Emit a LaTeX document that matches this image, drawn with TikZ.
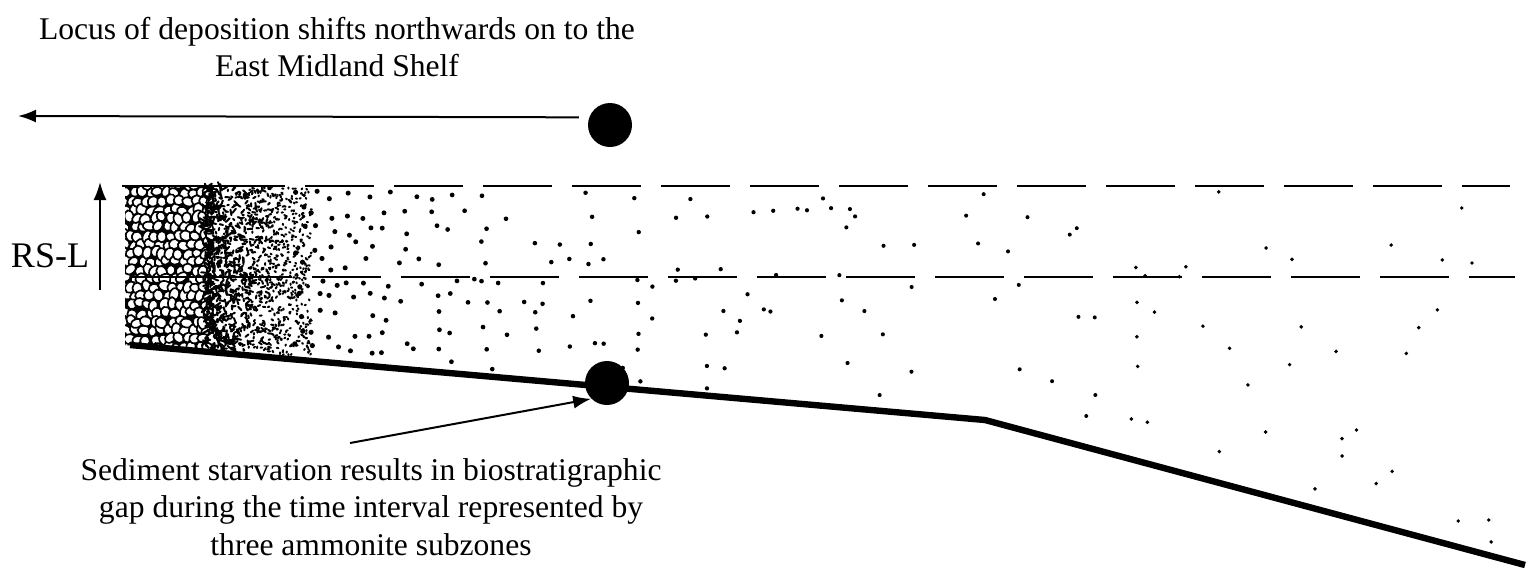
\documentclass[tikz,border=0pt]{standalone}
\usepackage{fontspec}
\setmainfont{Liberation Serif}
\usetikzlibrary{shapes,arrows,arrows.meta}
\tikzstyle{annot} =
        [
                align = center,
                % draw,
                font = \fontsize{15.8}{18.8}\selectfont,
                inner sep = 0pt
        ]
\tikzstyle{marker} =
        [
                circle,
                fill = black,
                minimum size = 22pt,
                inner sep = 0pt
        ]
\tikzstyle{line} =
        [
                line width = 1pt,
                draw = black,
                -{Latex[length = 9pt, width = 6.5pt]}
        ]
\tikzstyle{shelf} =
        [
                line width = 3.2pt,
                line join = round
        ]
\tikzstyle{sealevel} =
        [
                line width = 1pt,
                dash pattern = on 34.5pt off 10pt
        ]

\begin{document}
\begin{tikzpicture}[x = 0.5pt, y = -0.5pt]
    \useasboundingbox (0,0) rectangle (1530,570);
    \coordinate (shelf-west) at (130,345);
    \coordinate (shelf-break) at (985,420);
    \coordinate (shelf-east) at (1525,565);

    % pebbles
    \pgfmathsetseed{4217}
    \begin{scope}
        \clip (125,186) -- (214,186) -- (214,353) -- (125,345) -- cycle;
        \fill (125,186) rectangle (202,356);
        \foreach \i in {0,...,11} \foreach \j in {0,...,19} {
            \pgfmathsetmacro{\cx}{122 + 8.2*\i + 4*rnd - 2 + mod(\j,2)*4}
            \pgfmathsetmacro{\cy}{184 + 8.6*\j + 4*rnd - 2}
            \pgfmathsetmacro{\ra}{2.5 + 0.8*rnd}
            \pgfmathsetmacro{\rb}{2.0 + 0.6*rnd}
            \pgfmathsetmacro{\rot}{180*rnd}
            \filldraw [fill = white, line width = 0.85pt, rotate around = {\rot:(\cx,\cy)}]
                (\cx,\cy) ellipse (\ra pt and \rb pt);
        }
    \end{scope}

    % grit
    \foreach \i in {1,...,1300} {
        \pgfmathsetmacro{\qx}{205 + 106*pow(0.001 + 0.998*rnd,1.25)}
        \pgfmathsetmacro{\qbase}{345 + (\qx - 130)*0.0877}
        \pgfmathsetmacro{\qy}{188 + (\qbase - 192)*rnd}
        \pgfmathsetmacro{\qang}{360*rnd}
        \pgfmathsetmacro{\qlen}{1.2 + 7*rnd*max(0, 1 - (\qx - 205)/80)}
        \draw [line width = 1pt, line cap = round] (\qx,\qy) -- ++(\qang:\qlen);
    }

    % sand, thinning out towards the basin
    \foreach \gx in {300,317,...,1500} {
        \foreach \gy in {196,213,...,560} {
            \pgfmathsetmacro{\px}{\gx + 12*rnd - 6}
            \pgfmathsetmacro{\py}{\gy + 12*rnd - 6}
            \pgfmathsetmacro{\pbase}{\px < 985 ? 345 + (\px - 130)*0.0877 : 420 + (\px - 985)*0.2685}
            \pgfmathtruncatemacro{\keep}{(\py < \pbase - 7) && (rnd < 0.08 + 0.9*exp(-(\px - 340)/200))}
            \pgfmathsetmacro{\prad}{0.95 + 0.35*exp(-(\px - 300)/400)}
            \ifnum\keep=1 \fill (\px,\py) circle (\prad pt); \fi
        }
    }

    % sea levels
    \draw [line width = 1pt] (122,186) -- (285,186);
    \draw [sealevel] (305,186) -- (1510,186);
    \draw [line width = 1pt] (130,277) -- (292,277);
    \draw [sealevel] (312,277) -- (1515,277);

    \draw [shelf] (shelf-west) -- (shelf-break) -- (shelf-east);

    \node [marker] (top-dot) at (610,125) {};
    \node [marker] (gap-dot) at (607,383) {};
    \node [annot] (locus) at (337,47) {Locus of deposition shifts northwards on to the\\East Midland Shelf};
    \node [annot] (starvation) at (371,507) {Sediment starvation results in biostratigraphic\\gap during the time interval represented by\\three ammonite subzones};
    \node [annot, font = \fontsize{18}{20}\selectfont] (rs-l) at (50,256) {RS-L};

    \coordinate (landward) at (18,116);
    \coordinate (pointer-tail) at (350,443);
    \coordinate (rs-l-foot) at (100,290);
    \coordinate (rs-l-head) at (100,182);
    \path [line, shorten < = 5pt] (top-dot.160) -- (landward);
    \path [line] (pointer-tail) -- (gap-dot.225);
    \path [line] (rs-l-foot) -- (rs-l-head);
\end{tikzpicture}
\end{document}
